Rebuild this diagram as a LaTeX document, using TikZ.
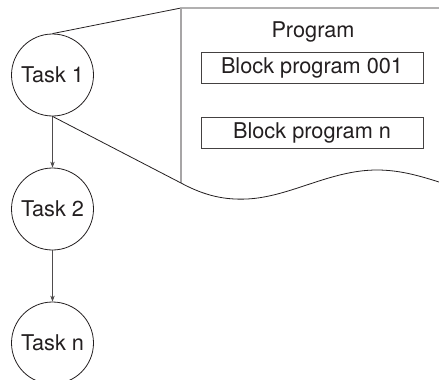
\documentclass[tikz,border=0pt]{standalone}
\usepackage{fontspec}
\setmainfont{TeX Gyre Heros}
\usetikzlibrary{arrows.meta}
\definecolor{ink}{HTML}{231F20}
\begin{document}
\begin{tikzpicture}[x=1pt,y=-1pt,
    font=\fontsize{21.7}{26}\selectfont,text=ink,
    task/.style={draw=ink,circle,minimum size=82pt,inner sep=0pt,line width=0.8pt},
    blockbox/.style={draw=ink!85,minimum width=222pt,minimum height=31pt,inner sep=0pt,line width=0.9pt},
    flow/.style={-{Stealth[length=6pt,width=4.5pt]},draw=ink!80,line width=0.7pt}]
        \useasboundingbox (0,0) rectangle (439,380);
        % tasks
        \node[task] (t1) at (52.5,75) {Task 1};
        \node[task] (t2) at (52.5,209) {Task 2};
        \node[task] (tn) at (52.5,343) {Task n};
        \draw[flow] (t1) -- (t2);
        \draw[flow] (t2) -- (tn);
        % program sheet
        \coordinate (ptop) at (181,8);
        \coordinate (pbot) at (181,183);
        \coordinate (pend) at (439,8);
        \draw[ink,line width=0.8pt] (t1.north) -- (ptop) -- (pend);
        \draw[ink!40,line width=1.3pt] (ptop) -- (pbot);
        \draw[ink,line width=0.8pt] (t1.south) -- (pbot)
            .. controls (205,196) and (225,200) .. (247,199)
            .. controls (290,197) and (330,170) .. (377,170)
            .. controls (400,170) and (420,176) .. (439,182);
        \node (prog) at (313,32) {Program};
        \node[blockbox] (b1) at (312,67.5) {Block program 001};
        \node[blockbox] (bn) at (312,132.5) {Block program n};
    \end{tikzpicture}
\end{document}
